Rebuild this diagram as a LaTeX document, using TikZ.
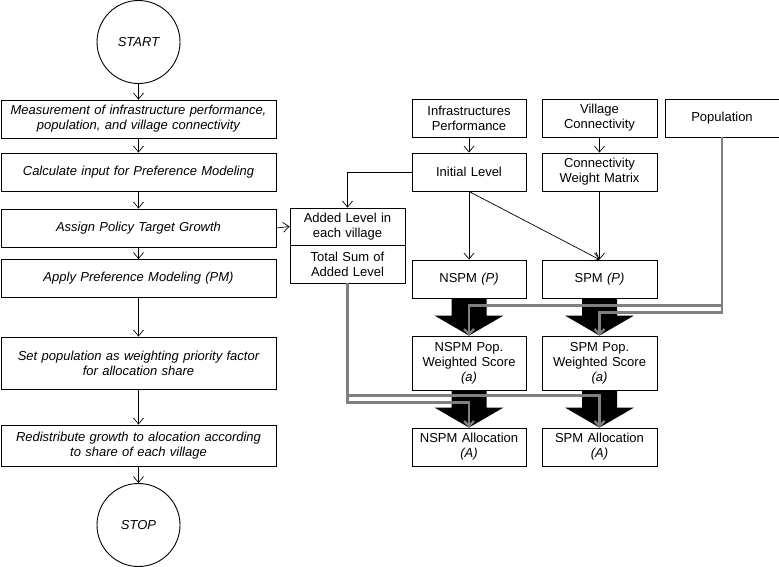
\documentclass[tikz,border=0pt]{standalone}
\usepackage{fontspec}
\setmainfont{Liberation Sans}
\usepackage{tikz}
\usetikzlibrary{arrows.meta,calc}

\newcommand{\blockarrow}[2]{\fill ($(#1.south)+(-17.5,0)$) -- ($(#2.north)+(-17.5,-20)$) -- ($(#2.north)+(-34.5,-20)$) -- (#2.north) -- ($(#2.north)+(34.5,-20)$) -- ($(#2.north)+(17.5,-20)$) -- ($(#1.south)+(17.5,0)$) -- cycle;}

\begin{document}
\begin{tikzpicture}[x=1pt,y=-1pt,>={Straight Barb[length=6pt,width=10pt]},
    every node/.style={font=\fontsize{13}{15}\selectfont,align=center,inner sep=1pt},
    term/.style={draw,line width=0.9pt,circle,minimum size=83pt,font=\fontsize{13}{15}\selectfont\itshape},
    stepbox/.style={draw,line width=0.9pt,minimum width=275pt,minimum height=38pt,text width=270pt,font=\fontsize{13}{15}\selectfont\itshape},
    databox/.style={draw,line width=0.9pt,minimum width=114pt,minimum height=38pt,text width=112pt},
    conn/.style={->,line width=0.7pt},
    popline/.style={->,line width=2.2pt,draw=black!50,>={Straight Barb[length=5pt,width=10pt]}}]
    \useasboundingbox (0,0) rectangle (779,566);
    \node[term] (start) at (138.5,42) {START};
    \node[stepbox] (measure) at (138.5,119) {Measurement of infrastructure performance,\\population, and village connectivity};
    \node[stepbox] (calcin) at (138.5,172) {Calculate input for Preference Modeling};
    \node[stepbox] (target) at (138.5,228) {Assign Policy Target Growth};
    \node[stepbox] (apply) at (138.5,278.5) {Apply Preference Modeling (PM)};
    \node[stepbox,minimum height=52pt] (setpop) at (138.5,363) {Set population as weighting priority factor\\for allocation share};
    \node[stepbox,minimum height=41pt] (redist) at (138.5,445.5) {Redistribute growth to alocation according\\to  share of each village};
    \node[term] (stop) at (138.5,525) {STOP};

    \node[databox] (infra) at (469,118) {Infrastructures\\Performance};
    \node[databox,minimum width=115pt] (vconn) at (599.5,118) {Village\\Connectivity};
    \node[databox] (pop) at (722,118) {Population};
    \node[databox] (init) at (469,172) {Initial Level};
    \node[databox,minimum width=115pt] (cwm) at (599.5,172) {Connectivity\\Weight Matrix};
    \node[databox,minimum width=115pt,minimum height=37pt] (addlvl) at (347.5,226.5) {Added Level in\\each village};
    \node[databox,minimum width=115pt] (totsum) at (347.5,264) {Total Sum of\\Added Level};
    \node[databox] (nspm) at (469,279) {NSPM \textit{(P)}};
    \node[databox,minimum width=115pt] (spm) at (599.5,279) {SPM \textit{(P)}};
    \node[databox,minimum height=54pt] (nspmw) at (469,363) {NSPM Pop.\\Weighted Score\\\textit{(a)}};
    \node[databox,minimum width=115pt,minimum height=54pt] (spmw) at (599.5,363) {SPM Pop.\\Weighted Score\\\textit{(a)}};
    \node[databox] (nspma) at (469,447) {NSPM Allocation\\\textit{(A)}};
    \node[databox,minimum width=115pt] (spma) at (599.5,447) {SPM Allocation\\\textit{(A)}};

    \draw[conn] (start) -- (measure);
    \draw[conn] (measure) -- (calcin);
    \draw[conn] (calcin) -- (target);
    \draw[conn] (target) -- (apply);
    \draw[conn] (apply) -- (setpop);
    \draw[conn] (setpop) -- (redist);
    \draw[conn] (redist) -- (stop);
    \draw[conn] (target.east) -- (addlvl.west);
    \draw[conn] (infra) -- (init);
    \draw[conn] (vconn) -- (cwm);
    \draw[conn] (init.west) -| (addlvl.north);
    \draw[conn] (init.south) -- (nspm.north);
    \draw[conn] (init.south) -- (spm.north);
    \draw[conn] (cwm) -- (spm);

    \blockarrow{nspm}{nspmw}
    \blockarrow{spm}{spmw}
    \blockarrow{nspmw}{nspma}
    \blockarrow{spmw}{spma}

    \draw[popline] (pop.south) -- ++(0,168) -| (nspmw.north);
    \draw[popline] (pop.south) -- ++(0,175) -| (spmw.north);
    \draw[popline] (totsum.south) -- ++(0,112) -| (spma.north);
    \draw[popline] (totsum.south) -- ++(0,119) -| (nspma.north);
\end{tikzpicture}
\end{document}
